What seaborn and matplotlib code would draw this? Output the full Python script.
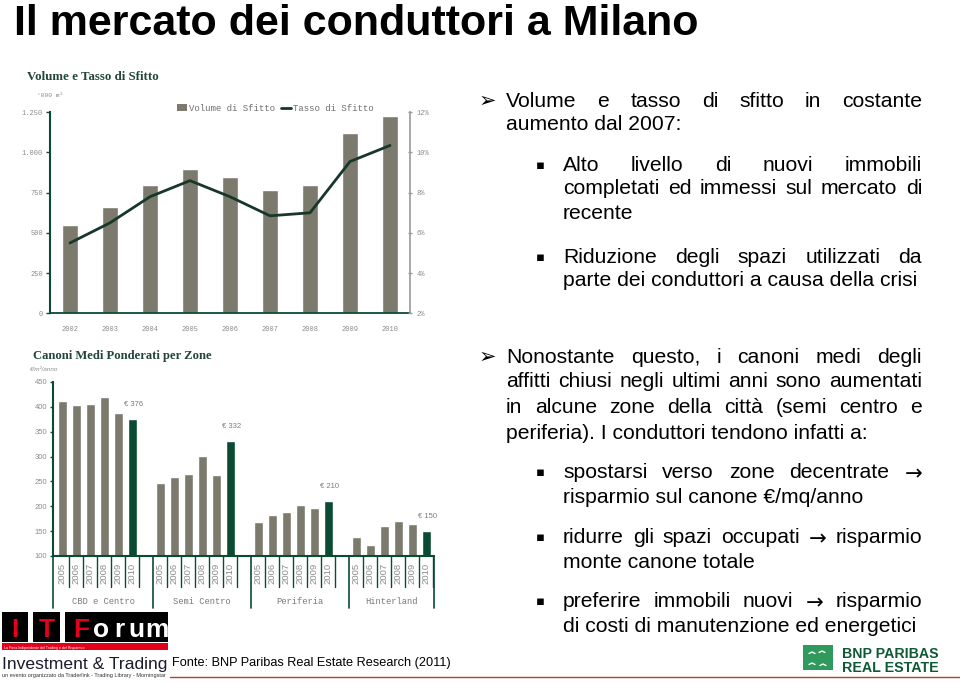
import numpy as np
import pandas as pd
import matplotlib
matplotlib.use("Agg")
import matplotlib.pyplot as plt
import matplotlib.transforms as mtransforms
from matplotlib.patches import Rectangle, Patch
from matplotlib.lines import Line2D
import seaborn as sns

# ---------------- data ----------------
years = ["2002", "2003", "2004", "2005", "2006", "2007", "2008", "2009", "2010"]
volume_sfitto = [550, 660, 800, 900, 850, 765, 800, 1120, 1225]          # '000 m2
tasso_sfitto = [5.5, 6.5, 7.8, 8.6, 7.8, 6.85, 7.0, 9.55, 10.35]        # %
vol_ticks = [0, 250, 500, 750, 1000, 1250]
vol_tick_labels = ["0", "250", "500", "750", "1.000", "1.250"]
rate_ticks = [2, 4, 6, 8, 10, 12]
rate_tick_labels = ["2%", "4%", "6%", "8%", "10%", "12%"]

zones = ["CBD e Centro", "Semi Centro", "Periferia", "Hinterland"]
rent_years = ["2005", "2006", "2007", "2008", "2009", "2010"]
cbd = [412, 404, 405, 420, 387, 376]
semi_centro = [246, 259, 264, 302, 262, 332]
periferia = [168, 182, 188, 202, 197, 210]
hinterland = [138, 123, 161, 171, 164, 150]
rent_ticks = [100, 150, 200, 250, 300, 350, 400, 450]

title = "Il mercato dei conduttori a Milano"
chart1_title = "Volume e Tasso di Sfitto"
chart2_title = "Canoni Medi Ponderati per Zone"
source = "Fonte: BNP Paribas Real Estate Research (2011)"

# (text, indent level, justified, bullet)
block1 = [
    ("Volume e tasso di sfitto in costante", 0, True, "arrow"),
    ("aumento dal 2007:", 0, False, None),
    ("Alto livello di nuovi immobili", 1, True, "square"),
    ("completati ed immessi sul mercato di", 1, True, None),
    ("recente", 1, False, None),
    ("Riduzione degli spazi utilizzati da", 1, True, "square"),
    ("parte dei conduttori a causa della crisi", 1, False, None),
    ("Nonostante questo, i canoni medi degli", 0, True, "arrow"),
    ("affitti chiusi negli ultimi anni sono aumentati", 0, True, None),
    ("in alcune zone della città (semi centro e", 0, True, None),
    ("periferia). I conduttori tendono infatti a:", 0, False, None),
    ("spostarsi verso zone decentrate \u2192", 1, True, "square"),
    ("risparmio sul canone €/mq/anno", 1, False, None),
    ("ridurre gli spazi occupati \u2192 risparmio", 1, True, "square"),
    ("monte canone totale", 1, False, None),
    ("preferire immobili nuovi \u2192 risparmio", 1, True, "square"),
    ("di costi di manutenzione ed energetici", 1, False, None),
]
baselines = [107, 130, 170.7, 194.3, 219, 262.7, 285.7,
             362.7, 386.7, 413, 439, 477.7, 503.3, 542.7, 567.7, 606.7, 631.7]

# ---------------- style ----------------
GRAY = "#7c796d"
DKGREEN = "#0b4a33"
LINEGREEN = "#17372a"
TXTGRAY = "#8c8c8c"
TITLEGREEN = "#23453a"
MONO = ["Liberation Mono", "DejaVu Sans Mono"]
SANS = ["Liberation Sans", "DejaVu Sans"]
SERIF = ["Liberation Serif", "DejaVu Serif"]
NARROW = ["Liberation Sans Narrow", "Liberation Sans", "DejaVu Sans"]

sns.set_theme(style="white")
plt.rcParams["font.family"] = SANS

W, H = 960, 683
fig = plt.figure(figsize=(9.6, 6.83), dpi=100)
fig.patch.set_facecolor("white")
R = fig.canvas.get_renderer()


def fx(x):
    return x / W


def fy(y):
    return 1 - y / H


def T(x, y, s, **kw):
    kw.setdefault("va", "baseline")
    return fig.text(fx(x), fy(y), s, **kw)


def wid(t):
    return t.get_window_extent(R).width


def fit(t, w):
    t.set_fontsize(t.get_fontsize() * w / wid(t))


def rect(x0, y0, x1, y1, color):
    fig.add_artist(Rectangle((fx(x0), fy(y1)), (x1 - x0) / W, (y1 - y0) / H,
                             transform=fig.transFigure, facecolor=color,
                             edgecolor="none"))


# ---------------- title ----------------
t = T(14, 35, title, fontsize=32, fontweight="bold", family=NARROW, color="black")
fit(t, 688)

# ---------------- chart 1 ----------------
ax1 = fig.add_axes([fx(50), fy(313.3), 360 / W, 201 / H])
sns.barplot(x=years, y=volume_sfitto, color=GRAY, width=0.4, saturation=1, ax=ax1)
ax1.set_xlim(-0.5, len(years) - 0.5)
ax1.set_ylim(vol_ticks[0], vol_ticks[-1])
ax1.set_yticks(vol_ticks)
ax1.set_yticklabels(vol_tick_labels, family=MONO, fontsize=5, color=TXTGRAY)
ax1.set_xticks(range(len(years)))
ax1.set_xticklabels(years, family=MONO, fontsize=5, color=TXTGRAY)
ax1.set_xticks(np.arange(0.5, len(years) - 0.5, 1), minor=True)
ax1.tick_params(axis="x", which="major", length=0, pad=9)
ax1.tick_params(axis="x", which="minor", length=5, width=1.2, color=DKGREEN,
                direction="inout")
ax1.tick_params(axis="y", length=3, width=1, color=DKGREEN, direction="out", pad=2,
                left=True)
ax1.set_xlabel("")
ax1.set_ylabel("")
for s in ["top", "right"]:
    ax1.spines[s].set_visible(False)
ax1.spines["left"].set_color(DKGREEN)
ax1.spines["left"].set_linewidth(1.5)
ax1.spines["bottom"].set_color(DKGREEN)
ax1.spines["bottom"].set_linewidth(1.3)

ax1r = ax1.twinx()
sns.lineplot(x=np.arange(len(years)), y=tasso_sfitto, color=LINEGREEN, lw=2, ax=ax1r)
ax1r.set_ylim(rate_ticks[0], rate_ticks[-1])
ax1r.set_yticks(rate_ticks)
ax1r.set_yticklabels(rate_tick_labels, family=MONO, fontsize=5, color=TXTGRAY)
ax1r.tick_params(axis="y", length=3, width=1, color="#9a9a9a", direction="inout",
                 pad=3, right=True)
ax1r.set_ylabel("")
ax1r.grid(False)
ax1.grid(False)
for s in ["top", "left", "bottom"]:
    ax1r.spines[s].set_visible(False)
ax1r.spines["right"].set_color("#9a9a9a")
ax1r.spines["right"].set_linewidth(1.2)

handles = [Patch(facecolor=GRAY, edgecolor="none", label="Volume di Sfitto"),
           Line2D([], [], color=LINEGREEN, lw=2, label="Tasso di Sfitto")]
ax1.legend(handles=handles, loc="center", bbox_to_anchor=(0.626, 1.02), ncol=2,
           frameon=False, prop={"family": MONO, "size": 6.5}, handlelength=1.1,
           handleheight=0.7, columnspacing=0.6, handletextpad=0.3,
           labelcolor="#6f6f6f", borderpad=0)

t = T(27, 80, chart1_title, family=SERIF, fontweight="bold", color=TITLEGREEN,
      fontsize=9)
fit(t, 131)
T(37, 97, "'000 m²", family=MONO, fontsize=4.5, color=TXTGRAY)

# ---------------- chart 2 ----------------
rows = []
series = [cbd, semi_centro, periferia, hinterland]
for gi, (zone, vals) in enumerate(zip(zones, series)):
    for yi, (yr, v) in enumerate(zip(rent_years, vals)):
        rows.append({"zone": zone, "year": yr, "pos": gi * 7 + yi, "value": v,
                     "hl": "last" if yr == rent_years[-1] else "other"})
df = pd.DataFrame(rows)

ax2 = fig.add_axes([fx(53.3), fy(556), (434 - 53.3) / W, 174 / H])
sns.barplot(data=df, x="pos", y="value", hue="hl",
            palette={"other": GRAY, "last": DKGREEN}, native_scale=True,
            width=0.64, dodge=False, legend=False, saturation=1, ax=ax2)
xmin, xmax = -0.63, 26.56
ax2.set_xlim(xmin, xmax)
ax2.set_ylim(rent_ticks[0], rent_ticks[-1])
ax2.set_yticks(rent_ticks)
ax2.set_yticklabels([str(v) for v in rent_ticks], fontsize=5.5, color=TXTGRAY)
ax2.tick_params(axis="y", length=2.5, width=1, color=DKGREEN, direction="out",
                pad=2, left=True)
ax2.set_xticks([])
ax2.set_xlabel("")
ax2.set_ylabel("")
ax2.grid(False)
for s in ["top", "right"]:
    ax2.spines[s].set_visible(False)
for s in ["left", "bottom"]:
    ax2.spines[s].set_color(DKGREEN)
    ax2.spines[s].set_linewidth(1.5)

blend = mtransforms.blended_transform_factory(ax2.transData, ax2.transAxes)
cell_bottom = -0.178
group_bottom = -0.299
for gi in range(len(zones)):
    for k in range(len(rent_years)):
        x = gi * 7 + k + 0.5
        ax2.plot([x, x], [0, cell_bottom], transform=blend, color=DKGREEN, lw=1,
                 clip_on=False)
edges = [xmin, 6.5, 13.5, 20.5, xmax]
for x in edges:
    ax2.plot([x, x], [0, group_bottom], transform=blend, color=DKGREEN, lw=1.2,
             clip_on=False)
for _, r in df.iterrows():
    ax2.text(r["pos"], -0.098, r["year"], transform=blend, rotation=90,
             ha="center", va="center", fontsize=6.8, color=TXTGRAY)
for gi, zone in enumerate(zones):
    ax2.text((edges[gi] + edges[gi + 1]) / 2, -0.262, zone, transform=blend,
             ha="center", va="center", family=MONO, fontsize=6.3, color="#7a7a7a")
for gi, vals in enumerate(series):
    pos = gi * 7 + len(vals) - 1
    ax2.annotate(f"€ {vals[-1]}", xy=(pos, vals[-1]), xytext=(1, 8),
                 textcoords="offset points", ha="center", va="bottom",
                 fontsize=5.5, color="#7a7a7a")

t = T(33, 359, chart2_title, family=SERIF, fontweight="bold", color=TITLEGREEN,
      fontsize=9)
fit(t, 179)
T(30, 371, "€/m²/anno", fontsize=4.5, color=TXTGRAY, style="italic")

# ---------------- right text ----------------
FS = 15.2
ARROW = "\u2192"


def word(x, y, w):
    if w == ARROW:
        return T(x, y + 2.5, w, fontsize=FS, family=["DejaVu Sans"], color="black")
    return T(x, y, w, fontsize=FS, family=SANS, color="black")


for (txt, lvl, just, bullet), yb in zip(block1, baselines):
    x0 = 506 if lvl == 0 else 563
    x1 = 922
    if bullet == "arrow":
        T(479, yb, "\u27a2", fontsize=15, family=["DejaVu Sans"], color="black")
    elif bullet == "square":
        T(536, yb - 2, "\u25aa", fontsize=9.5, family=["DejaVu Sans"], color="black")
    if not just:
        T(x0, yb, txt, fontsize=FS, family=SANS, color="black")
        continue
    words = txt.split(" ")
    objs = [word(x0, yb, w) for w in words]
    ws = [wid(o) for o in objs]
    gap = (x1 - x0 - sum(ws)) / (len(words) - 1)
    x = x0
    for o, w in zip(objs, ws):
        o.set_x(fx(x))
        x += w + gap

# ---------------- source + logos ----------------
t = T(172, 666, source, fontsize=10.5, family=SANS, color="black")
fit(t, 281)

# IT Forum logo
rect(2, 612, 28, 642, "black")
rect(33, 612, 60, 642, "black")
rect(65, 612, 168, 642, "black")
for ch, xc, col in [("I", 15, "#e2001a"), ("T", 46.5, "#e2001a"), ("F", 81, "#e2001a"),
                    ("o", 101, "white"), ("r", 119, "white"), ("u", 136.5, "white"),
                    ("m", 157, "white")]:
    T(xc, 637, ch, fontsize=19, fontweight="bold", family=SANS, color=col, ha="center")
rect(2, 643, 168, 650, "#e2001a")
T(4, 648.5, "La Fiera Indipendente del Trading e del Risparmio", fontsize=2.6,
  color="white")
t = T(2, 669, "Investment & Trading", fontsize=15, family=NARROW, color="#1b1b2e")
fit(t, 166)
t = T(2, 677, "un evento organizzato da Traderlink - Trading Library - Morningstar",
      fontsize=3.5, color="#333333")
fit(t, 166)
fig.add_artist(Line2D([fx(170), fx(960)], [fy(677), fy(677)], color="#c0392b",
                      lw=1, transform=fig.transFigure))

# BNP logo
rect(803, 645, 833, 670, "#2f9a5b")
for (xa, ya) in [(812, 652), (822, 651), (812, 663), (823, 664)]:
    fig.add_artist(Line2D([fx(xa - 3), fx(xa), fx(xa + 3)],
                          [fy(ya + 1.5), fy(ya), fy(ya + 1.5)], color="white",
                          lw=1, transform=fig.transFigure))
t = T(842, 658.5, "BNP PARIBAS", fontsize=10, fontweight="bold", family=SANS,
      color="#0d5a35")
fit(t, 96)
t = T(842, 672, "REAL ESTATE", fontsize=10, fontweight="bold", family=SANS,
      color="#0d5a35")
fit(t, 96)

fig.savefig("out.png", dpi=100, facecolor="white")
